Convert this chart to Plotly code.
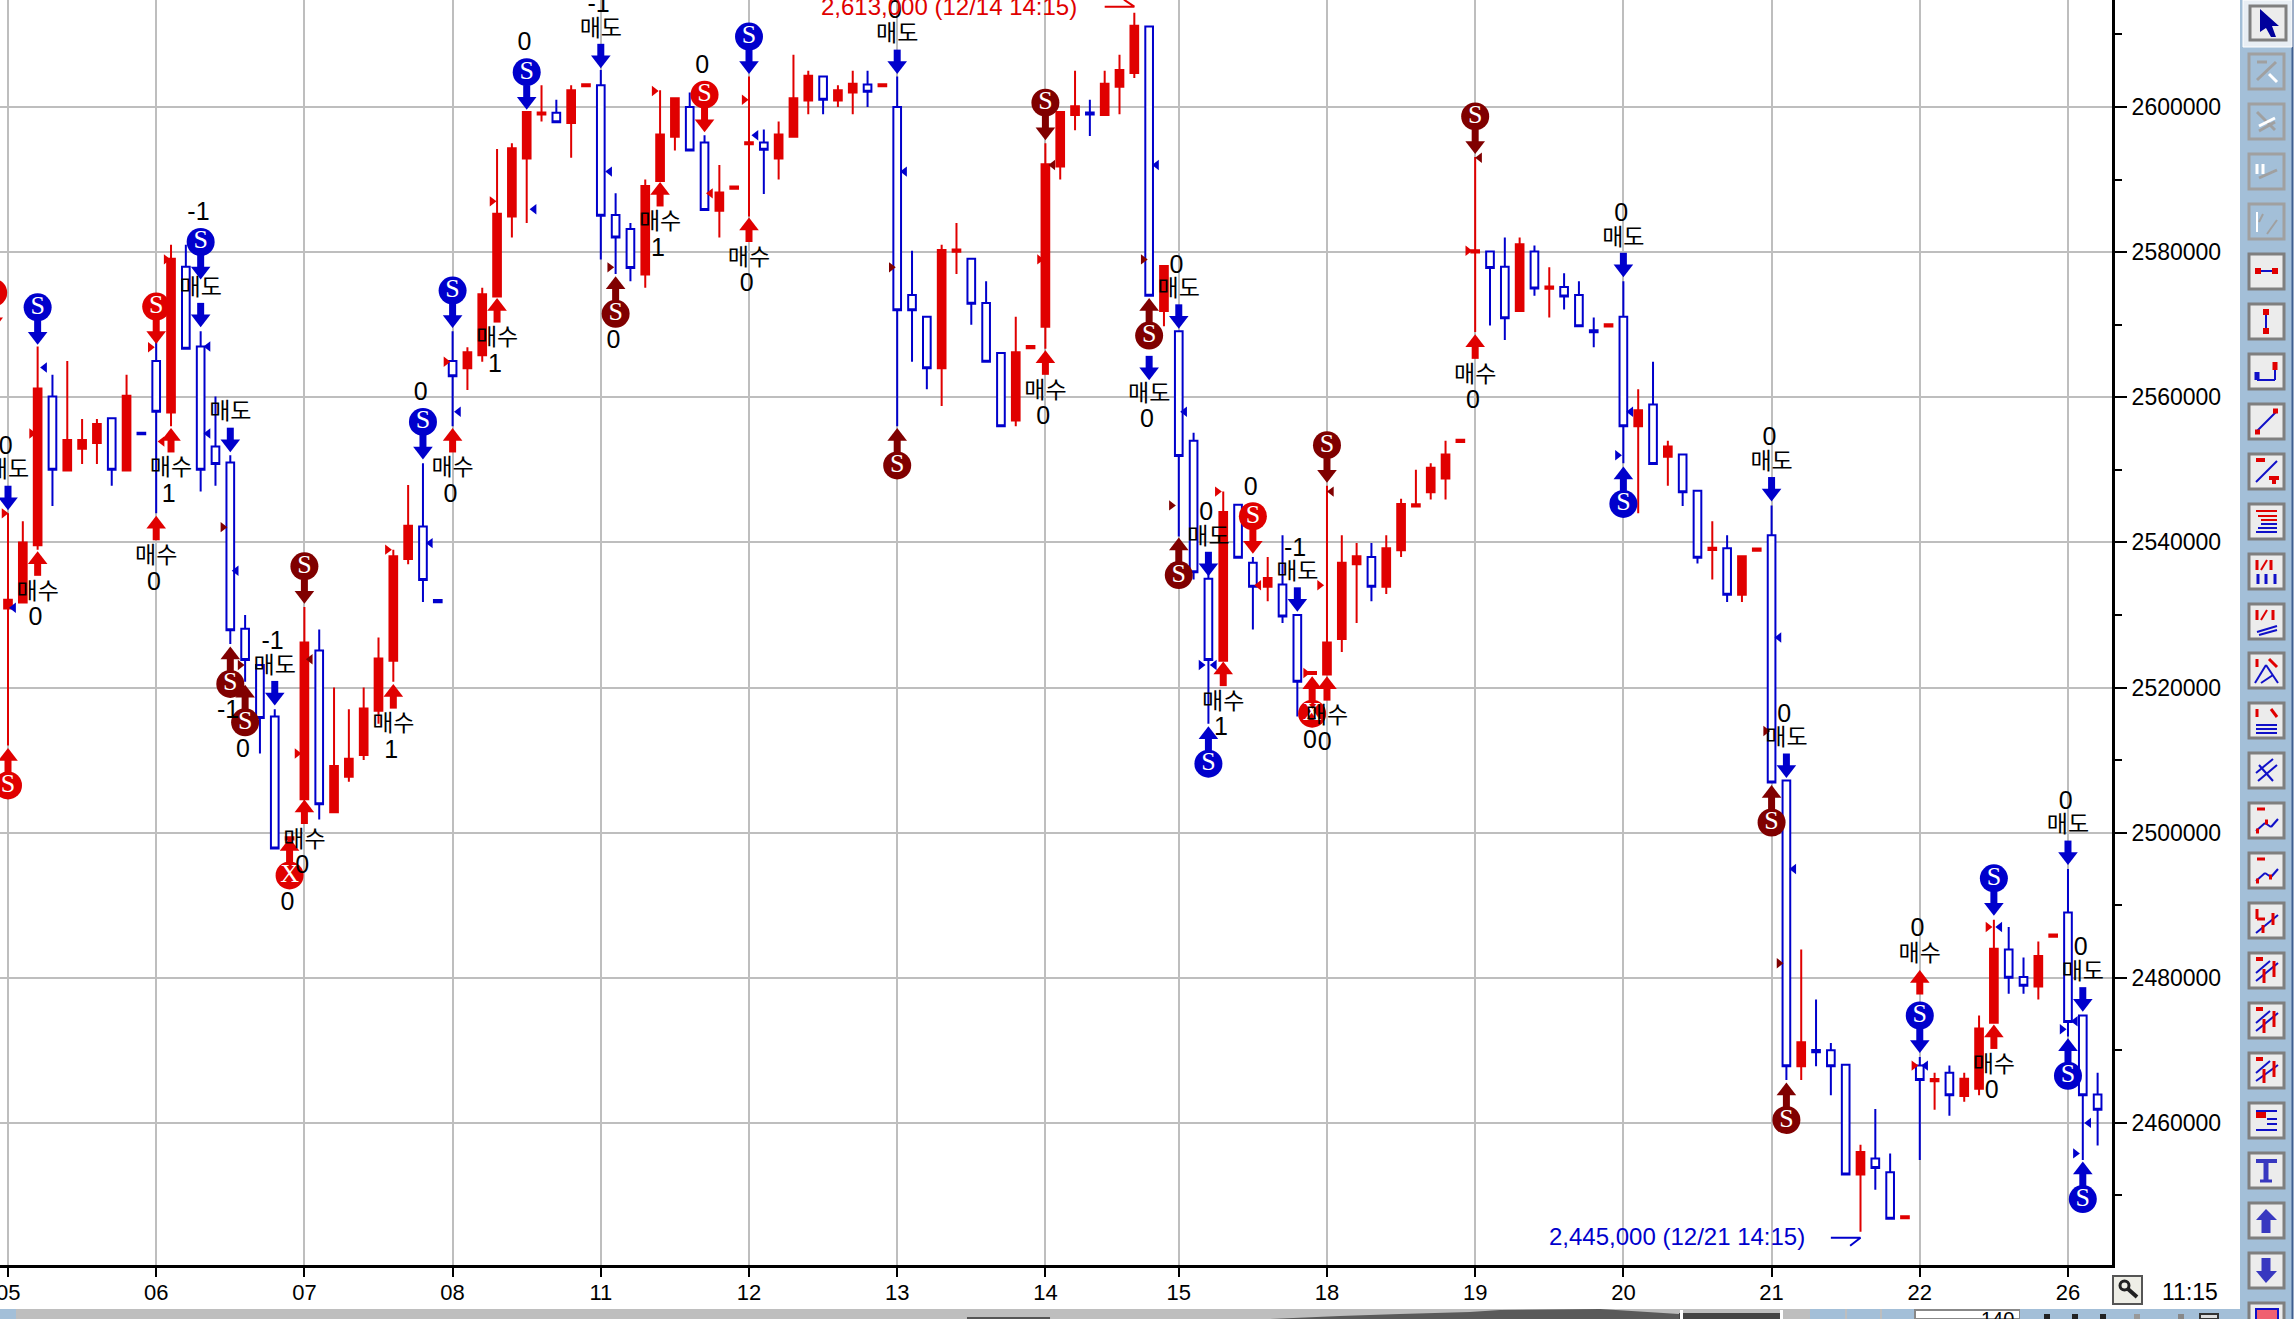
"""
plot.py
KOSPI style 15 minute candles with trade signals, HTS chart window look.
"""
import plotly.graph_objects as go

W, H = 2294, 1319
PLOT_R, PLOT_B = 2112, 1265
WON_PER_PX = 137.81

RED = "#e00000"
BLUE = "#0000cc"
MAROON = "#800000"
GRID = "#bebebe"
PANEL = "#a3bfd8"

# day tick labels and the bar where each day starts
day_labels = ["05", "06", "07", "08", "11", "12", "13", "14", "15", "18", "19", "20", "21", "22", "26"]
day_bars = [0, 10, 20, 30, 40, 50, 60, 70, 79, 89, 99, 109, 119, 129, 139]
y_ticks = [2460000, 2480000, 2500000, 2520000, 2540000, 2560000, 2580000, 2600000]

# candles, thousands of won
opens = [
    2530.9, 2531.7, 2539.6, 2560.1, 2549.9, 2552.9, 2553.7, 2557.1, 2549.9, 2555.1,
    2565, 2557.9, 2578, 2567, 2553.2, 2551, 2528.1, 2523.1, 2516, 2499.05,
    2504.6, 2525.1, 2502.8, 2507.7, 2510.7, 2516.8, 2523.7, 2537.7, 2542.2, 2532.05,
    2565, 2564, 2565.8, 2573.9, 2584.9, 2592.9, 2598.95, 2599.2, 2597.8, 2602.85,
    2603, 2585.1, 2583.2, 2576.9, 2589.8, 2595.9, 2600, 2595.1, 2585.7, 2588.75,
    2594.85, 2595.1, 2592.9, 2595.9, 2600.9, 2604.2, 2600.9, 2602, 2603.1, 2602.85,
    2600, 2574.1, 2571.1, 2564, 2580.05, 2579.1, 2573, 2566.1, 2556.8, 2566.75,
    2569.7, 2591.8, 2598.9, 2599.25, 2598.9, 2602.8, 2604.7, 2611.1, 2571.9, 2569.1,
    2554, 2535, 2523.7, 2545.2, 2537.2, 2533.9, 2534.2, 2530, 2521.85, 2521.8,
    2526.7, 2537, 2538, 2533.9, 2538.9, 2544.95, 2546.9, 2548.8, 2553.85, 2579.95,
    2580.1, 2578, 2571.9, 2580.1, 2574.95, 2575.2, 2574.1, 2569.25, 2569.75, 2571.1,
    2556, 2559, 2551.8, 2552.1, 2547.1, 2538.95, 2539.2, 2532.8, 2538.85, 2541,
    2507.2, 2467.8, 2470.05, 2470, 2468, 2452.9, 2455.1, 2453.2, 2446.85, 2467.9,
    2465.75, 2466.9, 2463.7, 2464.7, 2473.8, 2483.9, 2480.1, 2478.8, 2485.65, 2489, 2474.8, 2463.9,
]
closes = [
    2532.1, 2540, 2561.2, 2550, 2554.1, 2554.1, 2556.3, 2550, 2560.2, 2554.9,
    2558, 2579.1, 2566.7, 2550, 2550.8, 2527.9, 2523.8, 2515.8, 2497.8, 2499.35,
    2526.2, 2503.9, 2509.2, 2510.2, 2517.1, 2524, 2538.1, 2542.3, 2534.8, 2531.75,
    2562.9, 2566.2, 2574.2, 2585.3, 2594.3, 2599.3, 2599.25, 2597.9, 2602.3, 2603.15,
    2585, 2582, 2577.8, 2589.1, 2596.2, 2601.2, 2594, 2585.8, 2588.2, 2589.05,
    2595.15, 2594.1, 2596.2, 2601.2, 2604.3, 2601, 2602.3, 2603.2, 2602.1, 2603.15,
    2572, 2572, 2564, 2580.3, 2580.35, 2572.9, 2564.9, 2556, 2566.2, 2567.05,
    2592.1, 2599.3, 2600.1, 2598.95, 2603.2, 2605.1, 2611.2, 2574, 2578.1, 2551.9,
    2535.9, 2523.8, 2544.2, 2537.9, 2533.9, 2535.1, 2529.8, 2520.8, 2522.15, 2526.2,
    2537.2, 2538.1, 2533.9, 2539.2, 2545.3, 2545.25, 2550.3, 2552.1, 2554.15, 2580.25,
    2577.8, 2570.9, 2581.1, 2575, 2575.25, 2573.9, 2569.8, 2568.95, 2570.05, 2556,
    2558.2, 2550.8, 2553.2, 2546.9, 2537.9, 2539.25, 2532.8, 2538.1, 2539.15, 2506.9,
    2467.8, 2471.1, 2469.75, 2467.8, 2452.9, 2456, 2453.8, 2446.8, 2447.15, 2465.9,
    2466.05, 2463.8, 2466.1, 2473, 2484, 2480, 2478.9, 2483, 2485.95, 2473.9, 2463.8, 2461.8,
]
highs = [
    2544, 2542.9, 2567, 2563.1, 2565, 2557, 2557, 2557.1, 2563.1, 2555.1,
    2569.3, 2581, 2581, 2569.1, 2560.1, 2552, 2530, 2523.1, 2517, 2499.35,
    2531.1, 2528, 2520, 2517, 2520, 2526.9, 2539, 2547.9, 2550.9, 2532.05,
    2569.1, 2566.9, 2575.1, 2594.2, 2595, 2599.3, 2603, 2601, 2603, 2603.15,
    2605.1, 2588.1, 2584, 2590, 2602.3, 2601.2, 2602, 2596.1, 2592, 2589.05,
    2604.2, 2596.9, 2598, 2607.2, 2605, 2604.2, 2603, 2605, 2605, 2603.15,
    2604.2, 2580.2, 2571.1, 2581, 2584, 2579.1, 2576, 2566.1, 2571.1, 2567.05,
    2595, 2599.3, 2605, 2601, 2605, 2607.2, 2613, 2611.1, 2578.1, 2569.1,
    2555.1, 2536.6, 2547, 2545.2, 2538, 2538, 2541, 2530, 2522.15, 2547.8,
    2541, 2539.9, 2539.9, 2541, 2546, 2550, 2550.9, 2554, 2554.15, 2593.1,
    2580.1, 2582, 2582, 2580.9, 2577.9, 2577.1, 2576, 2571, 2570.05, 2576,
    2561.1, 2564.9, 2554, 2552.1, 2547.1, 2542.9, 2541, 2538.1, 2539.15, 2545.1,
    2507.2, 2483.9, 2477, 2471, 2468, 2457, 2461.9, 2455.8, 2447.15, 2469.1,
    2466.9, 2467.9, 2466.9, 2474.8, 2488, 2487, 2482.8, 2485, 2485.95, 2495, 2474.8, 2466.9,
]
lows = [
    2512, 2531.7, 2539, 2545, 2549.9, 2550.8, 2550.8, 2547.8, 2549.9, 2554.9,
    2544, 2556, 2566.7, 2547, 2547.8, 2526, 2520.8, 2510.9, 2497.8, 2499.05,
    2504.6, 2501.8, 2502.8, 2507, 2510, 2515, 2520.8, 2537, 2531.8, 2531.75,
    2556, 2561, 2564.9, 2573.9, 2582, 2584, 2598, 2597.9, 2593, 2602.85,
    2579, 2577, 2576, 2575.1, 2589.8, 2594, 2594, 2585.8, 2582, 2588.75,
    2584.9, 2588, 2590, 2595.9, 2599, 2599, 2600, 2599, 2600, 2602.85,
    2556, 2564.9, 2561.1, 2558.8, 2577, 2570, 2564.9, 2556, 2556, 2566.75,
    2566.7, 2590, 2596.8, 2596, 2598.9, 2599, 2604, 2574, 2569.8, 2540.8,
    2534.9, 2515, 2523.7, 2537.9, 2528, 2531.9, 2528.9, 2516, 2521.85, 2521.8,
    2524.9, 2528.9, 2531.9, 2532.9, 2538, 2544.95, 2545.9, 2545.9, 2553.85, 2569,
    2569.9, 2567.9, 2571.9, 2574, 2571, 2572.1, 2569.8, 2566.9, 2569.75, 2550.9,
    2544, 2550.8, 2547.8, 2545, 2537.1, 2534.9, 2531.8, 2531.8, 2538.85, 2506.9,
    2465.9, 2465.9, 2467.8, 2463.8, 2452.9, 2445, 2450.8, 2446.8, 2446.85, 2454.9,
    2461.8, 2461, 2462.9, 2463.8, 2473.8, 2477.8, 2477.8, 2477, 2485.65, 2471.9, 2454.9, 2456.9,
]

# signals: bar, arrow tip price, arrow direction, colour, round icon, label, number
sig_bar = [-1, 0, 0, 2, 2, 10, 10, 11, 13, 13, 15, 15, 16, 18, 19, 20, 20, 26, 28, 30, 30,
           33, 35, 40, 41, 44, 47, 50, 50, 60, 60, 70, 70, 77, 77, 79, 82, 81, 81, 79, 84,
           87, 88, 89, 89, 99, 99, 109, 109, 119, 119, 120, 120, 129, 129, 134, 134, 139, 140, 139, 140]
sig_tip = [2569.3, 2544.5, 2511.6, 2567.3, 2538.7, 2543.6, 2567.4, 2555.7, 2569.7, 2576.3, 2552.5,
           2525.6, 2520.3, 2517.6, 2499.2, 2504.5, 2531.6, 2520.4, 2551.5, 2555.7, 2569.6,
           2573.6, 2599.7, 2605.4, 2576.6, 2589.6, 2596.6, 2584.7, 2604.6, 2604.6, 2555.7,
           2595.5, 2566.4, 2573.6, 2562.4, 2569.5, 2523.5, 2514.6, 2535.4, 2540.6, 2538.5,
           2530.5, 2521.5, 2521.5, 2548.3, 2568.6, 2593.6, 2576.6, 2550.4, 2545.7, 2506.5,
           2507.6, 2465.5, 2481, 2469.7, 2473.5, 2488.6, 2495.6, 2475.4, 2471.6, 2454.6]
sig_dir = ["d", "d", "u", "d", "u", "u", "d", "u", "d", "d", "d",
           "u", "u", "d", "u", "u", "d", "u", "d", "u", "d",
           "u", "d", "d", "u", "u", "d", "u", "d", "d", "u",
           "d", "u", "u", "d", "d", "u", "u", "d", "u", "d",
           "d", "u", "u", "d", "u", "d", "d", "u", "d", "u",
           "d", "u", "u", "d", "u", "d", "d", "d", "u", "u"]
sig_color = ["r", "b", "r", "b", "r", "r", "r", "r", "b", "b", "b",
             "m", "m", "b", "r", "r", "m", "r", "b", "r", "b",
             "r", "b", "b", "m", "r", "r", "r", "b", "b", "m",
             "m", "r", "m", "b", "b", "r", "b", "b", "m", "r",
             "b", "r", "r", "m", "r", "m", "b", "b", "b", "m",
             "b", "m", "r", "b", "r", "b", "b", "b", "b", "b"]
sig_icon = ["S", "", "S", "S", "", "", "S", "", "", "S", "",
            "S", "S", "", "X", "", "S", "", "S", "", "S",
            "", "S", "", "S", "", "S", "", "S", "", "S",
            "S", "", "S", "", "", "", "S", "", "S", "S",
            "", "X", "", "S", "", "S", "", "S", "", "S",
            "", "S", "", "S", "", "S", "", "", "S", "S"]
sig_label = ["", "매도", "", "", "매수", "매수", "", "매수", "매도", "", "매도",
             "", "", "매도", "", "매수", "", "매수", "", "매수", "",
             "매수", "", "매도", "", "매수", "", "매수", "", "매도", "",
             "", "매수", "", "매도", "매도", "매수", "", "매도", "", "",
             "매도", "", "매수", "", "매수", "", "매도", "", "매도", "",
             "매도", "", "매수", "", "매수", "", "매도", "매도", "", ""]
sig_num = ["", "0", "", "", "0", "0", "", "1", "", "-1", "",
           "-1", "0", "-1", "0", "0", "", "1", "0", "0", "",
           "1", "0", "-1", "0", "1", "0", "0", "", "0", "",
           "", "0", "", "0", "0", "1", "", "0", "", "0",
           "-1", "0", "0", "", "0", "", "0", "", "0", "",
           "0", "", "0", "", "0", "", "0", "0", "", ""]
# these two have the label on the tail side of the arrow's far end, past the tip
sig_flipped = [(77, "d"), (129, "u")]

# small side markers: fractional bar, price, colour, pointing side
tri_x = [2.47, 1.59, 9.6, 10.67, 13.5, 10.4, 13.5, 14.5, 15.4, 15.66, 20.4, 19.5, 25.6, 28.5, -0.27,
         0.38, 29.55, 30.4, 32.66, 35.5, 40.6, 40.6, 43.6, 47.4, 49.67, 50.47, 60.5, 59.6, 69.6,
         70.5, 76.6, 77.5, 99.3, 98.5, 79.4, 78.5, 81.6, 80.5, 81.4, 84.4, 88.5, 87.56, 89.3,
         108.6, 109.5, 119.5, 118.6, 120.5, 119.5, 128.6, 129.4, 133.6, 134.4, 138.6, 139.5, 139.5, 140.4]
tri_y = [2564.1, 2555, 2566.9, 2579, 2567, 2553.9, 2555, 2542.1, 2536.1, 2523.1, 2523.9, 2510.9, 2539, 2539.9, 2544,
         2531, 2564.9, 2558, 2587, 2585.9, 2577.9, 2591.1, 2602.2, 2588.1, 2601, 2596.1, 2591.1, 2577.9, 2579,
         2592, 2579, 2592, 2593, 2580.2, 2558, 2545.1, 2547, 2523.1, 2523.1, 2534.1, 2534.1, 2522, 2547,
         2552, 2558, 2526.9, 2514, 2495, 2482, 2467.9, 2467.9, 2487, 2487, 2472.9, 2474, 2455.8, 2460]
tri_color = ["b", "r", "r", "r", "b", "r", "b", "m", "b", "m", "m", "r", "r", "b", "r",
             "b", "r", "b", "r", "b", "m", "b", "r", "r", "r", "b", "b", "m", "r",
             "m", "m", "b", "m", "r", "b", "m", "r", "b", "b", "r", "r", "r", "m",
             "b", "b", "b", "m", "b", "m", "r", "b", "r", "b", "b", "b", "b", "b"]
tri_side = ["l", "r", "r", "r", "l", "l", "l", "r", "l", "r", "l", "r", "r", "l", "r",
            "l", "r", "l", "r", "l", "r", "l", "r", "l", "r", "l", "l", "r", "r",
            "l", "r", "l", "l", "r", "l", "r", "r", "r", "l", "l", "r", "r", "l",
            "r", "l", "l", "r", "l", "r", "r", "l", "r", "l", "r", "l", "r", "l"]

# extreme price notes
hi_text, hi_bar, hi_price = "2,613,000 (12/14 14:15)", 76, 2613
lo_text, lo_bar, lo_price = "2,445,000 (12/21 14:15)", 125, 2445

COLORS = {"r": RED, "b": BLUE, "m": MAROON}
bars = list(range(len(opens)))


def px(n):
    return n * WON_PER_PX


fig = go.Figure()
fig.add_trace(go.Candlestick(
    x=bars,
    open=[v * 1000 for v in opens], high=[v * 1000 for v in highs],
    low=[v * 1000 for v in lows], close=[v * 1000 for v in closes],
    increasing=dict(line=dict(color=RED, width=2), fillcolor=RED),
    decreasing=dict(line=dict(color=BLUE, width=2), fillcolor="white"),
    whiskerwidth=0, hoverinfo="skip", showlegend=False,
))

# side markers
for key, col in COLORS.items():
    idx = [i for i, c in enumerate(tri_color) if c == key]
    fig.add_trace(go.Scatter(
        x=[tri_x[i] for i in idx], y=[tri_y[i] * 1000 for i in idx], mode="markers",
        marker=dict(size=9, color=col,
                    symbol=["triangle-left" if tri_side[i] == "l" else "triangle-right" for i in idx]),
        hoverinfo="skip", showlegend=False,
    ))

# arrows, icons and text for every signal
icons_x, icons_y, icons_c, icons_t = [], [], [], []
text_x, text_y, text_t = [], [], []
num_x, num_y, num_t = [], [], []
for key, col in COLORS.items():
    sx, sy, hx, hy, hs = [], [], [], [], []
    for i, k in enumerate(sig_color):
        if k != key:
            continue
        sgn = 1 if sig_dir[i] == "d" else -1
        tip = sig_tip[i] * 1000
        sx += [sig_bar[i], sig_bar[i], None]
        sy += [tip + sgn * px(9), tip + sgn * px(24), None]
        hx.append(sig_bar[i])
        hy.append(tip + sgn * px(8))
        hs.append("triangle-down" if sgn == 1 else "triangle-up")
    fig.add_trace(go.Scatter(x=sx, y=sy, mode="lines", line=dict(color=col, width=7),
                             hoverinfo="skip", showlegend=False))
    fig.add_trace(go.Scatter(x=hx, y=hy, mode="markers", marker=dict(size=17, color=col, symbol=hs),
                             hoverinfo="skip", showlegend=False))

for i in range(len(sig_bar)):
    sgn = 1 if sig_dir[i] == "d" else -1
    tip = sig_tip[i] * 1000
    flipped = (sig_bar[i], sig_dir[i]) in sig_flipped
    lab_off, num_off = (38, 62) if sgn == 1 else (41, 67)
    if flipped:
        sgn, lab_off, num_off = -sgn, 15, 41
    if sig_icon[i]:
        icons_x.append(sig_bar[i])
        icons_y.append(tip + sgn * px(37))
        icons_c.append(COLORS[sig_color[i]])
        icons_t.append(sig_icon[i])
        num_off = 65
    if sig_label[i]:
        text_x.append(sig_bar[i])
        text_y.append(tip + sgn * px(lab_off))
        text_t.append(sig_label[i])
    if sig_num[i]:
        num_x.append(sig_bar[i] - 0.15)
        num_y.append(tip + sgn * px(num_off))
        num_t.append(sig_num[i])

fig.add_trace(go.Scatter(
    x=icons_x, y=icons_y, mode="markers+text", text=icons_t, textposition="middle center",
    marker=dict(size=28, color=icons_c),
    textfont=dict(family="Liberation Serif", size=26, color="white"),
    hoverinfo="skip", showlegend=False,
))
fig.add_trace(go.Scatter(
    x=text_x, y=text_y, mode="text", text=text_t, textposition="middle center",
    textfont=dict(family="Noto Sans CJK KR", size=23, color="black"),
    hoverinfo="skip", showlegend=False,
))
fig.add_trace(go.Scatter(
    x=num_x, y=num_y, mode="text", text=num_t, textposition="middle center",
    textfont=dict(family="Liberation Sans Narrow, Liberation Sans", size=25, color="black"),
    hoverinfo="skip", showlegend=False,
))

# half arrows pointing at the extreme candles
fig.add_trace(go.Scatter(
    x=[hi_bar - 2, hi_bar, hi_bar - 0.7],
    y=[hi_price * 1000 + px(6)] * 2 + [hi_price * 1000 + px(13)],
    mode="lines", line=dict(color=RED, width=2), hoverinfo="skip", showlegend=False,
))
fig.add_trace(go.Scatter(
    x=[lo_bar - 2, lo_bar, lo_bar - 0.7],
    y=[lo_price * 1000 - px(6)] * 2 + [lo_price * 1000 - px(14)],
    mode="lines", line=dict(color=BLUE, width=2), hoverinfo="skip", showlegend=False,
))


# window furniture, all in page pixels
def fx(x):
    return x / W


def fy(y):
    return 1 - y / H


def rect(x0, y0, x1, y1, fill, line=None, lw=0):
    return dict(type="rect", xref="paper", yref="paper", x0=fx(x0), y0=fy(y0), x1=fx(x1), y1=fy(y1),
                fillcolor=fill, line=dict(color=line or fill, width=lw), layer="above")


def seg(x0, y0, x1, y1, color, lw=2):
    return dict(type="line", xref="paper", yref="paper", x0=fx(x0), y0=fy(y0), x1=fx(x1), y1=fy(y1),
                line=dict(color=color, width=lw), layer="above")


def poly(points, fill):
    path = "M " + " L ".join(f"{fx(a):.5f},{fy(b):.5f}" for a, b in points) + " Z"
    return dict(type="path", xref="paper", yref="paper", path=path, fillcolor=fill,
                line=dict(color=fill, width=0), layer="above")


R, B = "#e00000", "#1010c8"
GREY_ICON = "#a0a0a0"
# line work inside each toolbar button, coordinates on a 0..35 box
button_icons = {
    1: [(GREY_ICON, 8, 26, 27, 8, 3), (GREY_ICON, 8, 8, 18, 8, 3), ("white", 20, 20, 28, 28, 3)],
    2: [(GREY_ICON, 8, 8, 26, 26, 3), ("white", 10, 22, 26, 14, 3), (GREY_ICON, 10, 27, 26, 18, 3)],
    3: [("white", 8, 10, 8, 20, 3), ("white", 14, 10, 14, 20, 3), (GREY_ICON, 10, 24, 28, 16, 3)],
    4: [("white", 8, 8, 8, 28, 2), (GREY_ICON, 10, 18, 14, 10, 2), (GREY_ICON, 18, 30, 28, 16, 2)],
    5: [(B, 6, 17, 29, 17, 2), (R, 6, 17, 12, 17, 6), (R, 23, 17, 29, 17, 6)],
    6: [(B, 17, 6, 17, 29, 2), (R, 17, 5, 17, 11, 6), (R, 17, 24, 17, 30, 6)],
    7: [(B, 8, 26, 26, 26, 2), (B, 8, 18, 8, 26, 5), (R, 26, 8, 26, 16, 5), (B, 26, 16, 26, 26, 2)],
    8: [(B, 8, 27, 27, 8, 2), (R, 6, 28, 11, 28, 5), (R, 24, 7, 29, 7, 5)],
    9: [(B, 7, 28, 28, 7, 2), (R, 7, 6, 16, 6, 4), (R, 20, 24, 30, 24, 4), (R, 25, 24, 25, 30, 4)],
    10: [(R, 7, 7, 28, 7, 2), (R, 9, 12, 28, 12, 2), (R, 12, 16, 28, 16, 2), (B, 12, 20, 28, 20, 2),
         (B, 9, 24, 28, 24, 2), (B, 7, 28, 28, 28, 2)],
    11: [(R, 8, 6, 8, 16, 3), (R, 12, 16, 18, 6, 2), (R, 22, 6, 22, 16, 3), (B, 9, 20, 9, 30, 3),
         (B, 17, 20, 17, 30, 3), (B, 26, 20, 26, 30, 3)],
    12: [(R, 8, 6, 8, 16, 3), (R, 12, 16, 18, 6, 2), (R, 24, 6, 24, 16, 3), (B, 8, 28, 28, 22, 2),
         (B, 10, 31, 28, 26, 2)],
    13: [(R, 8, 6, 8, 14, 3), (R, 20, 6, 28, 14, 3), (B, 6, 30, 17, 12, 2), (B, 17, 12, 29, 30, 2),
         (B, 12, 30, 24, 22, 2)],
    14: [(R, 8, 6, 8, 14, 3), (R, 22, 6, 28, 14, 3), (B, 7, 22, 28, 22, 2), (B, 7, 26, 28, 26, 2),
         (B, 7, 30, 28, 30, 2)],
    15: [(B, 7, 20, 24, 6, 2), (B, 9, 28, 28, 12, 2), (B, 10, 12, 24, 28, 2)],
    16: [(R, 8, 6, 16, 6, 3), (B, 7, 28, 16, 20, 2), (B, 16, 20, 22, 24, 2), (B, 22, 24, 29, 16, 2),
         (R, 7, 28, 10, 28, 5), (R, 16, 19, 19, 19, 5)],
    17: [(R, 8, 6, 16, 6, 3), (B, 7, 28, 16, 20, 2), (B, 16, 20, 22, 24, 2), (B, 22, 24, 29, 16, 2),
         (R, 7, 28, 10, 28, 5), (R, 20, 24, 23, 24, 5)],
    18: [(R, 8, 6, 8, 16, 3), (R, 8, 16, 16, 16, 3), (B, 7, 30, 29, 12, 2), (R, 14, 22, 14, 30, 3),
         (R, 24, 10, 24, 22, 3)],
    19: [(R, 7, 6, 14, 6, 4), (B, 7, 28, 29, 10, 2), (B, 7, 20, 21, 8, 2), (R, 15, 16, 15, 30, 3),
         (R, 25, 8, 25, 24, 3)],
    20: [(R, 7, 6, 14, 6, 4), (B, 7, 28, 29, 10, 2), (B, 7, 20, 21, 8, 2), (R, 15, 16, 15, 30, 3),
         (R, 25, 8, 25, 24, 3)],
    21: [(R, 7, 6, 14, 6, 4), (B, 7, 28, 29, 12, 2), (B, 7, 20, 21, 8, 2), (R, 15, 16, 15, 30, 3),
         (R, 25, 8, 25, 24, 3)],
    22: [(B, 7, 8, 28, 8, 2), (R, 7, 12, 17, 12, 6), (B, 18, 16, 28, 16, 2), (B, 18, 21, 28, 21, 2),
         (B, 7, 27, 28, 27, 2)],
    23: [("#3838c0", 7, 8, 28, 8, 4), ("#3838c0", 17, 8, 17, 27, 5), ("#3838c0", 11, 28, 23, 28, 3)],
    24: [("#3838c0", 17, 15, 17, 30, 9)],
    25: [("#3838c0", 17, 5, 17, 20, 9)],
}

shapes = [
    rect(2240, 0, 2292, H, PANEL),
    seg(2292.5, 0, 2292.5, H, "#3f5f8f", 2),
    rect(2243, 0, 2292, 47, "#e8eef4", "white", 1),
    rect(2250, 6, 2286, 40, "#ececec", "#7f7f7f", 3),
    poly([(2260, 9), (2279, 26), (2272, 26), (2276, 37), (2271, 37), (2266, 28), (2260, 32)], "#00009c"),
    # status strip at the bottom
    rect(0, 1309, 2240, H, GRID),
    rect(0, 1309, 16, H, PANEL),
    poly([(967, H), (967, 1317), (1050, 1317), (1050, H)], "#555555"),
    poly([(1270, H), (1340, 1316), (1400, 1314), (1470, 1312), (1500, 1310), (1600, 1309), (1679, 1314),
          (1679, H)], "#5a5a5a"),
    rect(1679, 1313, 1780, H, "#444444"),
    rect(1680, 1310, 1683, H, "white"),
    rect(1780, 1310, 1783, H, "white"),
    rect(1810, 1309, 1845, H, PANEL),
    rect(1847, 1309, 1880, H, PANEL),
    rect(1882, 1309, 1915, H, PANEL),
    rect(1915, 1310, 2020, H, "white", "#888888", 2),
    rect(2020, 1309, 2240, H, PANEL),
    rect(2044, 1314, 2050, H, "#222222"),
    rect(2072, 1314, 2078, H, "#222222"),
    rect(2100, 1314, 2106, H, "#222222"),
    rect(2134, 1314, 2140, H, "#999999"),
    rect(2178, 1314, 2184, H, "#888888"),
    rect(2200, 1314, 2218, H, "#dddddd", "#333333", 2),
    # magnifier box
    rect(2113, 1276, 2142, 1304, "#eeeee6", "#555555", 2),
    dict(type="circle", xref="paper", yref="paper", x0=fx(2120), y0=fy(1290), x1=fx(2129), y1=fy(1281),
         fillcolor="#eeeee6", line=dict(color="#222222", width=3), layer="above"),
    seg(2128, 1289, 2137, 1297, "#222222", 4),
]

for n in range(1, 27):
    top = 4 + 50 * n - (1 if n > 12 else 0)
    if n <= 4:
        shapes.append(rect(2249, top, 2284, top + 35, PANEL, GREY_ICON, 3))
    else:
        shapes.append(rect(2249, top, 2284, top + 35, "#ececec", "#7f7f7f", 3))
    if n == 26:
        shapes.append(rect(2256, top + 6, 2278, top + 30, "#f06070", "#1010c8", 2))
    for col, a0, b0, a1, b1, lw in button_icons.get(n, []):
        shapes.append(seg(2249 + a0, top + b0, 2249 + a1, top + b1, col, lw))
    if n == 24:
        shapes.append(poly([(2256, top + 17), (2266, top + 6), (2277, top + 17)], "#3838c0"))
    if n == 25:
        shapes.append(poly([(2256, top + 18), (2266, top + 30), (2277, top + 18)], "#3838c0"))

annotations = [
    dict(x=hi_bar - 3.7, y=hi_price * 1000 + px(6), xref="x", yref="y", text=hi_text, showarrow=False,
         xanchor="right", yanchor="middle", font=dict(family="Liberation Sans", size=24, color=RED)),
    dict(x=lo_bar - 3.6, y=lo_price * 1000 - px(5), xref="x", yref="y", text=lo_text, showarrow=False,
         xanchor="right", yanchor="middle", font=dict(family="Liberation Sans", size=24, color=BLUE)),
    dict(x=fx(2190), y=fy(1292), xref="paper", yref="paper", text="11:15", showarrow=False,
         xanchor="center", yanchor="middle", font=dict(family="Liberation Sans", size=23, color="black")),
    dict(x=fx(2016), y=fy(1319), xref="paper", yref="paper", text="140", showarrow=False, xanchor="right",
         yanchor="middle", font=dict(family="Liberation Sans", size=20, color="black")),
    # first day label hangs off the page edge, the axis would drop it
    dict(x=day_bars[0], y=fy(1292), xref="x", yref="paper", text=day_labels[0], showarrow=False,
         xanchor="center", yanchor="middle", font=dict(family="Liberation Sans", size=22, color="black")),
]

fig.update_layout(
    width=W, height=H,
    margin=dict(l=0, r=0, t=0, b=0),
    paper_bgcolor="white", plot_bgcolor="white",
    showlegend=False, boxgap=0.26, hovermode=False,
    xaxis=dict(
        domain=[0, PLOT_R / W], range=[-8 / 14.82, (PLOT_R - 8) / 14.82], type="linear",
        rangeslider=dict(visible=False),
        tickmode="array", tickvals=day_bars, ticktext=day_labels,
        ticks="outside", ticklen=9, tickwidth=2, tickcolor="black",
        tickfont=dict(family="Liberation Sans", size=22, color="black"),
        ticklabelstandoff=-3,
        showgrid=True, gridcolor=GRID, gridwidth=2, zeroline=False,
        showline=True, linecolor="black", linewidth=3,
    ),
    yaxis=dict(
        domain=[1 - PLOT_B / H, 1], range=[2440419, 2614745], side="right",
        tickmode="array", tickvals=y_ticks, tickformat="d",
        ticks="outside", ticklen=12, tickwidth=2, tickcolor="black",
        tickfont=dict(family="Liberation Sans", size=23, color="black"),
        showgrid=True, gridcolor=GRID, gridwidth=2, zeroline=False,
        showline=True, linecolor="black", linewidth=3,
        minor=dict(dtick=10000, tick0=2440000, ticks="outside", ticklen=7, tickwidth=2,
                   tickcolor="black", showgrid=False),
    ),
    shapes=shapes,
    annotations=annotations,
)

fig.write_html("out.html", config=dict(displayModeBar=False),
               post_script="document.body.style.margin='0';")
